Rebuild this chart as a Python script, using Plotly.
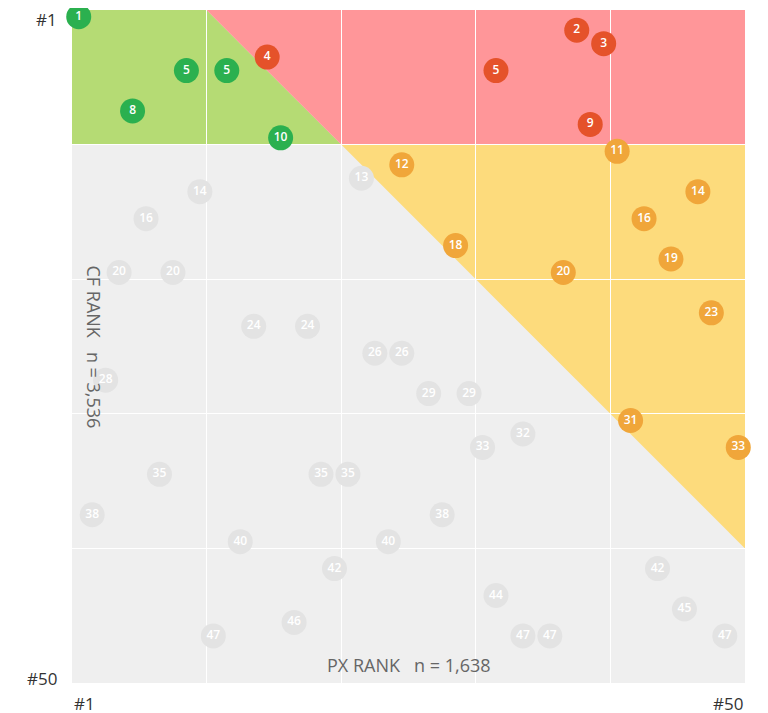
import plotly.graph_objects as go

# ---- data (PX rank = x, CF rank = y; label = CF rank) ----
green_px = [1, 9, 12, 5, 16]
green_cf = [1, 5, 5, 8, 10]

red_px = [15, 38, 40, 32, 39]
red_cf = [4, 2, 3, 5, 9]

orange_px = [41, 25, 47, 43, 29, 45, 37, 48, 42, 50]
orange_cf = [11, 12, 14, 16, 18, 19, 20, 23, 31, 33]

gray_px = [22, 10, 6, 4, 8, 14, 18, 23, 25, 3, 27, 30, 34, 31, 7, 19, 21, 2, 28,
           13, 24, 20, 44, 32, 46, 17, 11, 34, 36, 49]
gray_cf = [13, 14, 16, 20, 20, 24, 24, 26, 26, 28, 29, 29, 32, 33, 35, 35, 35, 38, 38,
           40, 40, 42, 42, 44, 45, 46, 47, 47, 47, 47]

N_RANKS = 50
TOP_BAND = 10      # green/red band depth
DIAG_START = 10    # green/red diagonal starts after this px rank
x_title = "PX RANK   n = 1,638"
y_title = "CF RANK   n = 3,536"

lo, hi = 0.5, N_RANKS + 0.5
b = TOP_BAND + 0.5
d0 = DIAG_START + 0.5
d1 = d0 + TOP_BAND

fig = go.Figure()

def path(pts):
    return "M " + " L ".join(f"{x},{y}" for x, y in pts) + " Z"

shapes = [
    dict(type="path", path=path([(lo, lo), (d0, lo), (d1, b), (lo, b)]),
         fillcolor="#b5db74", line=dict(width=0), layer="below"),
    dict(type="path", path=path([(d0, lo), (hi, lo), (hi, b), (d1, b)]),
         fillcolor="#ff9699", line=dict(width=0), layer="below"),
    dict(type="path", path=path([(d1, b), (hi, b), (hi, b + (hi - d1))]),
         fillcolor="#fddb7c", line=dict(width=0), layer="below"),
]

def add(px, cf, color):
    fig.add_trace(go.Scatter(
        x=px, y=cf, mode="markers+text", text=[str(v) for v in cf],
        textposition="middle center",
        textfont=dict(family="Open Sans", size=12, color="white", weight=600),
        marker=dict(size=25, color=color, line=dict(width=0)),
        cliponaxis=False, hoverinfo="skip", showlegend=False))

add(gray_px, gray_cf, "#e3e3e3")
add(orange_px, orange_cf, "#f0a63a")
add(red_px, red_cf, "#e5522a")
add(green_px, green_cf, "#2bb04f")

ann_font = dict(family="Open Sans", size=17, color="#333333")
title_font = dict(family="Open Sans", size=18, color="#666666")
annotations = [
    dict(text="#1", xref="paper", yref="paper", x=-0.02, y=1.0, xanchor="right",
         yanchor="middle", showarrow=False, font=ann_font, yshift=-9),
    dict(text="#50", xref="paper", yref="paper", x=-0.02, y=0.0, xanchor="right",
         yanchor="middle", showarrow=False, font=ann_font, yshift=5),
    dict(text="#1", xref="paper", yref="paper", x=0.0, y=0.0, xanchor="left",
         yanchor="top", showarrow=False, font=ann_font, yshift=-7),
    dict(text="#50", xref="paper", yref="paper", x=1.0, y=0.0, xanchor="right",
         yanchor="top", showarrow=False, font=ann_font, yshift=-7),
    dict(text=x_title, xref="paper", yref="paper", x=0.5, y=0.0, xanchor="center",
         yanchor="bottom", showarrow=False, font=title_font, yshift=4),
    dict(text=y_title, xref="paper", yref="paper", x=0.0, y=0.5, xanchor="left",
         yanchor="middle", showarrow=False, textangle=90, font=title_font,
         xshift=8, yshift=0),
]

fig.update_layout(
    width=760, height=705,
    margin=dict(l=64, r=23, t=2, b=30),
    paper_bgcolor="white", plot_bgcolor="#efefef",
    shapes=shapes, annotations=annotations,
    xaxis=dict(range=[lo, hi], tick0=lo, dtick=10, showticklabels=False,
               showgrid=True, gridcolor="white", gridwidth=1, zeroline=False,
               showline=False, ticks=""),
    yaxis=dict(range=[hi, lo], tick0=lo, dtick=10, showticklabels=False,
               showgrid=True, gridcolor="white", gridwidth=1, zeroline=False,
               showline=False, ticks=""),
)

fig.write_html("out.html")
